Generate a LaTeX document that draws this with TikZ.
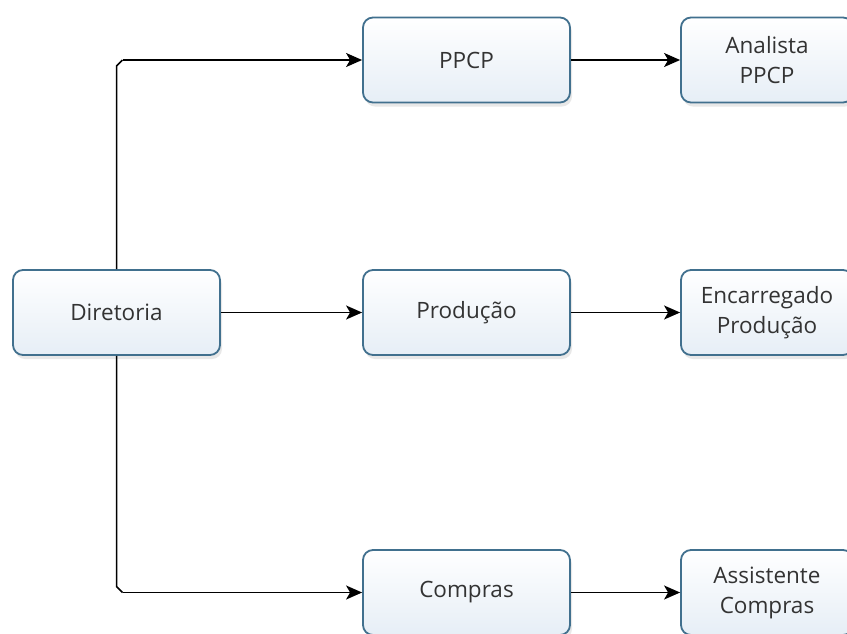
\documentclass[tikz,border=0pt]{standalone}
\usepackage{fontspec}
\setmainfont{Open Sans}
\usetikzlibrary{arrows.meta,shadows}
\definecolor{boxborder}{HTML}{41708E}
\definecolor{boxtop}{HTML}{FFFFFF}
\definecolor{boxbot}{HTML}{E6EEF6}
\definecolor{txt}{HTML}{333333}
\tikzset{
  box/.style={draw=boxborder, line width=1.8pt, rounded corners=10pt,
    top color=boxtop, bottom color=boxbot, minimum height=85pt,
    text=txt, align=center, font=\fontsize{22.5}{30}\selectfont,
    drop shadow={shadow xshift=2pt, shadow yshift=-4pt, opacity=0.18, fill=gray}},
  wide/.style={box, minimum width=207pt},
  side/.style={box, minimum width=172pt},
  conn/.style={line width=1.5pt, black, -{Stealth[length=16pt,width=14pt,inset=4pt]}},
  lineonly/.style={line width=1.5pt, black}
}
\begin{document}
\begin{tikzpicture}[x=1pt,y=-1pt]
\useasboundingbox (0,0) rectangle (847,633);
\clip (0,0) rectangle (847,633);
\fill[white] (0,0) rectangle (847,633);
\node[wide] (dir) at (116.5,312.5) {Diretoria};
\node[wide] (ppcp) at (466.5,60) {PPCP};
\node[wide] (prod) at (466.5,312.5) {Produção};
\node[wide] (comp) at (466.5,592.5) {Compras};
\node[side] (ana) at (767,60) {Analista\\PPCP};
\node[side] (enc) at (767,312.5) {Encarregado\\Produção};
\node[side] (ass) at (767,592.5) {Assistente\\Compras};
\coordinate (c1) at (dir.north |- ppcp.west);
\coordinate (c2) at (dir.south |- comp.west);
\draw[lineonly] (dir.north) -- ([yshift=-6pt]c1) -- ([xshift=6pt]c1) coordinate (c1e);
\draw[conn] (c1e) -- (ppcp.west);
\draw[lineonly] (dir.south) -- ([yshift=6pt]c2) -- ([xshift=6pt]c2) coordinate (c2e);
\draw[conn] (c2e) -- (comp.west);
\draw[conn] (dir.east) -- (prod.west);
\draw[conn] (ppcp.east) -- (ana.west);
\draw[conn] (prod.east) -- (enc.west);
\draw[conn] (comp.east) -- (ass.west);
\end{tikzpicture}
\end{document}
